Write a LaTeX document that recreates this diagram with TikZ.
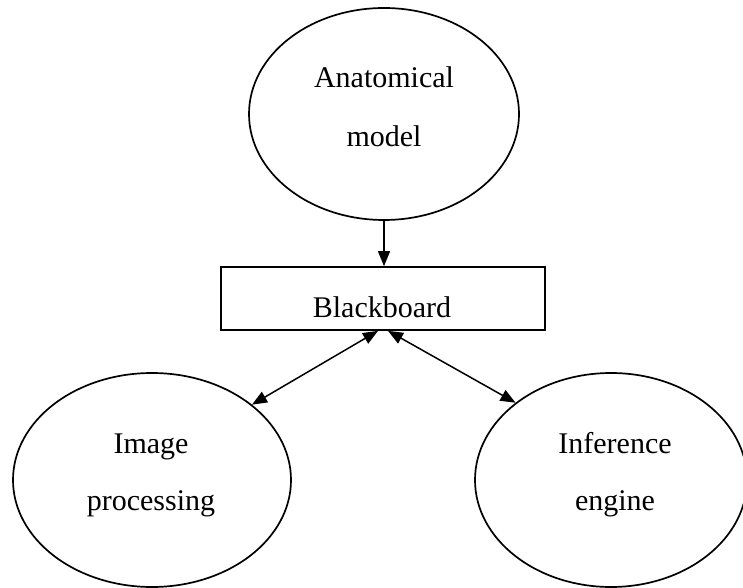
\documentclass[tikz,border=0pt]{standalone}
\usepackage{fontspec}
\setmainfont{Liberation Serif}
\usetikzlibrary{arrows.meta,shapes.geometric}

\tikzset{
  bubble/.style={draw, ellipse, line width=1.7pt, inner sep=0pt},
  board/.style={draw, rectangle, line width=1.7pt, inner sep=0pt,
                minimum width=324pt, minimum height=63pt},
  label/.style={anchor=base, inner sep=0pt,
                font=\fontsize{30}{36}\selectfont},
  link/.style={line width=1.5pt,
               -{Triangle[length=15pt,width=12pt]}},
  dlink/.style={line width=1.5pt,
                {Triangle[length=15pt,width=12pt]}-{Triangle[length=15pt,width=12pt]}}
}

\begin{document}
\begin{tikzpicture}[x=1pt,y=1pt]
  \useasboundingbox (0,0) rectangle (743,587);

  % knowledge sources and the shared board
  \node[bubble, minimum width=270pt, minimum height=212pt] (anat) at (384,473) {};
  \node[board] (bb) at (383,288.5) {};
  \node[bubble, minimum width=278pt, minimum height=214pt] (img) at (152,107) {};
  \node[bubble, minimum width=272pt, minimum height=214pt] (inf) at (611,107) {};

  % texts
  \node[label] (anat1) at (384,499) {Anatomical};
  \node[label] (anat2) at (384,440) {model};
  \node[label] (bbtxt) at (382,270) {Blackboard};
  \node[label] (img1) at (151,134) {Image};
  \node[label] (img2) at (151,77) {processing};
  \node[label] (inf1) at (615,134) {Inference};
  \node[label] (inf2) at (615,77) {engine};

  % connectors
  \coordinate (bbl) at ([xshift=-5pt]bb.south);
  \coordinate (bbr) at ([xshift=5pt]bb.south);
  \draw[link] (anat.south) -- (anat.south |- bb.north);
  \draw[dlink] (bbl) -- (img.37);
  \draw[dlink] (bbr) -- (inf.141);
\end{tikzpicture}
\end{document}
